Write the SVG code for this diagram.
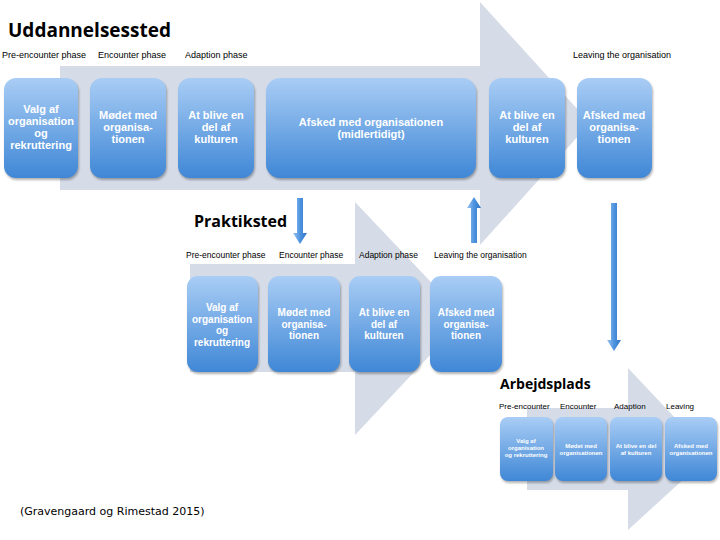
<svg xmlns="http://www.w3.org/2000/svg" width="720" height="540" viewBox="0 0 720 540">
<defs>
<linearGradient id="g" x1="0" y1="0" x2="0" y2="1"><stop offset="0" stop-color="#a9cdf5"/><stop offset="1" stop-color="#3f87d6"/></linearGradient>
<linearGradient id="v" x1="0" y1="0" x2="1" y2="0"><stop offset="0" stop-color="#9ac4f2"/><stop offset="0.5" stop-color="#4f94e0"/><stop offset="1" stop-color="#2f74c4"/></linearGradient>
<style>
.box{fill:url(#g);filter:drop-shadow(1px 2px 1px rgba(0,0,0,0.3))}
.bg{fill:#d5dce8}
.t{font-family:"Liberation Sans",Arial,sans-serif;fill:#fff;font-weight:bold;text-anchor:middle}
.ph{font-family:"Liberation Sans",Arial,sans-serif;fill:#000;font-size:9px}
.h{font-family:"Open Sans","Liberation Sans",sans-serif;font-weight:bold;fill:#000}
</style>
</defs>
<rect width="720" height="540" fill="#fff"/>
<polygon class="bg" points="60,66 480,66 480,2 590,123 480,245 480,190 60,190"/>
<polygon class="bg" points="190,264 355,264 355,202 465,318 355,435 355,372 190,372"/>
<polygon class="bg" points="527,408 628,408 628,368 710,455 628,530 628,490 527,490"/>
<g id="connectors">
<polygon fill="url(#v)" points="297,198 303,198 303,233 307,233 300,244 293,233 297,233"/>
<polygon fill="url(#v)" points="471,243 477,243 477,208 481,208 474,197 467,208 471,208"/>
<polygon fill="url(#v)" points="611,203 617,203 617,340 621,340 614,351 607,340 611,340"/>
</g>
<text class="h" x="8" y="37" font-size="19">Uddannelsessted</text>
<text class="h" x="194" y="227" font-size="16">Praktiksted</text>
<text class="h" x="500" y="389" font-size="14">Arbejdsplads</text>
<g class="ph">
<text x="2" y="58">Pre-encounter phase</text><text x="98" y="58">Encounter phase</text><text x="185" y="58">Adaption phase</text><text x="573" y="58">Leaving the organisation</text>
<text x="186" y="258" font-size="8.5">Pre-encounter phase</text><text x="279" y="258" font-size="8.5">Encounter phase</text><text x="359" y="258" font-size="8.5">Adaption phase</text><text x="434" y="258" font-size="8.5">Leaving the organisation</text>
<text x="499" y="409" font-size="8">Pre-encounter</text><text x="560" y="409" font-size="8">Encounter</text><text x="614" y="409" font-size="8">Adaption</text><text x="666" y="409" font-size="8">Leaving</text>
</g>
<g id="n1"><rect class="box" x="4" y="78" width="74" height="100" rx="12"/><text class="t" font-size="11" x="41" y="113">Valg af<tspan x="41" dy="12">organisation</tspan><tspan x="41" dy="12">og</tspan><tspan x="41" dy="12">rekruttering</tspan></text></g>
<g id="n2"><rect class="box" x="90" y="78" width="76" height="100" rx="12"/><text class="t" font-size="11" x="128" y="119">Mødet med<tspan x="128" dy="12">organisa-</tspan><tspan x="128" dy="12">tionen</tspan></text></g>
<g id="n3"><rect class="box" x="178" y="78" width="76" height="100" rx="12"/><text class="t" font-size="11" x="216" y="119">At blive en<tspan x="216" dy="12">del af</tspan><tspan x="216" dy="12">kulturen</tspan></text></g>
<g id="n4"><rect class="box" x="266" y="78" width="210" height="100" rx="14"/><text class="t" font-size="11" x="371" y="126">Afsked med organisationen<tspan x="371" dy="12">(midlertidigt)</tspan></text></g>
<g id="n5"><rect class="box" x="489" y="78" width="76" height="100" rx="12"/><text class="t" font-size="11" x="527" y="119">At blive en<tspan x="527" dy="12">del af</tspan><tspan x="527" dy="12">kulturen</tspan></text></g>
<g id="n6"><rect class="box" x="577" y="78" width="75" height="100" rx="12"/><text class="t" font-size="11" x="614" y="119">Afsked med<tspan x="614" dy="12">organisa-</tspan><tspan x="614" dy="12">tionen</tspan></text></g>
<g id="p1"><rect class="box" x="187" y="276" width="71" height="96" rx="11"/><text class="t" font-size="10" x="222" y="311">Valg af<tspan x="222" dy="11.5">organisation</tspan><tspan x="222" dy="11.5">og</tspan><tspan x="222" dy="11.5">rekruttering</tspan></text></g>
<g id="p2"><rect class="box" x="268" y="276" width="72" height="96" rx="11"/><text class="t" font-size="10" x="304" y="316">Mødet med<tspan x="304" dy="11.5">organisa-</tspan><tspan x="304" dy="11.5">tionen</tspan></text></g>
<g id="p3"><rect class="box" x="349" y="276" width="71" height="96" rx="11"/><text class="t" font-size="10" x="384" y="316">At blive en<tspan x="384" dy="11.5">del af</tspan><tspan x="384" dy="11.5">kulturen</tspan></text></g>
<g id="p4"><rect class="box" x="430" y="276" width="72" height="96" rx="11"/><text class="t" font-size="10" x="466" y="316">Afsked med<tspan x="466" dy="11.5">organisa-</tspan><tspan x="466" dy="11.5">tionen</tspan></text></g>
<g id="a1"><rect class="box" x="500" y="417" width="53" height="64" rx="8"/><text class="t" font-size="6" x="526" y="443">Valg af<tspan x="526" dy="7">organisation</tspan><tspan x="526" dy="7">og rekruttering</tspan></text></g>
<g id="a2"><rect class="box" x="555" y="417" width="52" height="64" rx="8"/><text class="t" font-size="6" x="581" y="448">Mødet med<tspan x="581" dy="7">organisationen</tspan></text></g>
<g id="a3"><rect class="box" x="610" y="417" width="52" height="64" rx="8"/><text class="t" font-size="6" x="636" y="448">At blive en del<tspan x="636" dy="7">af kulturen</tspan></text></g>
<g id="a4"><rect class="box" x="665" y="417" width="52" height="64" rx="8"/><text class="t" font-size="6" x="691" y="448">Afsked med<tspan x="691" dy="7">organisationen</tspan></text></g>
<text x="20" y="515" font-family="'DejaVu Sans',sans-serif" font-size="11" fill="#000">(Gravengaard og Rimestad 2015)</text>
</svg>
